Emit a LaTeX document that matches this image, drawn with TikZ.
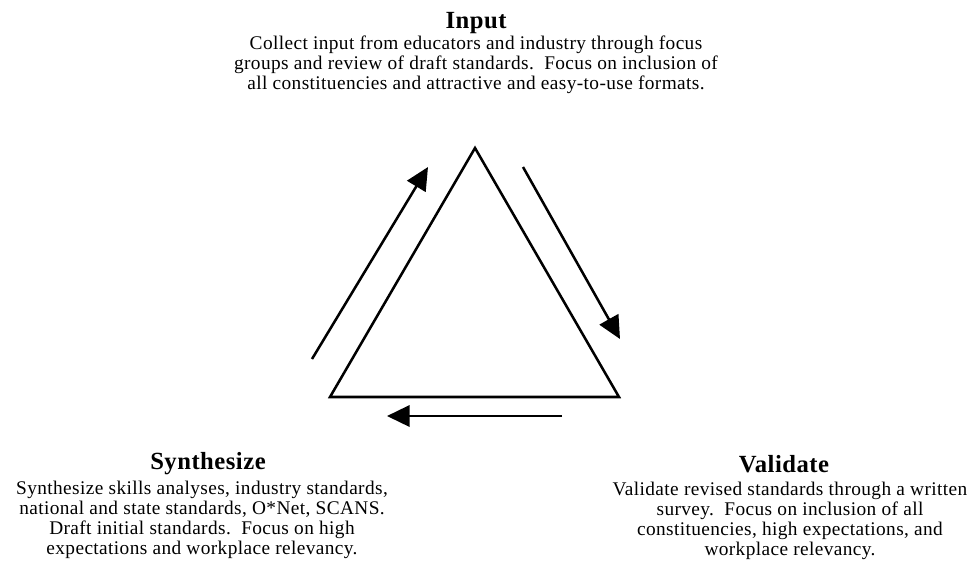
\documentclass[tikz,border=0pt]{standalone}
\usepackage{fontspec}
\setmainfont{Liberation Serif}[LetterSpace=2]
\usetikzlibrary{arrows.meta}

\begin{document}
\begin{tikzpicture}[x=0.75pt,y=-0.75pt,line width=1.9pt]
\tikzstyle{head}=[font=\fontsize{18.5}{20}\selectfont\bfseries,inner sep=0pt]
\tikzstyle{body}=[font=\fontsize{14.5}{15}\selectfont,align=center,inner sep=0pt]
\tikzstyle{cycle}=[-{Triangle[length=17pt,width=16pt]}]
\useasboundingbox (0,0) rectangle (973,572);

\node[head](inputh) at (476,23) {Input};
\node[body](inputb) at (476,65) {Collect input from educators and industry through focus\\
groups and review of draft standards.\ \ Focus on inclusion of\\
all constituencies and attractive and easy-to-use formats.};

\node[head](synth) at (208,464) {Synthesize};
\node[body](synthb) at (202,520) {Synthesize skills analyses, industry standards,\\
national and state standards, O*Net, SCANS.\\
Draft initial standards.\ \ Focus on high\\
expectations and workplace relevancy.};

\node[head](valid) at (784,464) {Validate};
\node[body](validb) at (790,521) {Validate revised standards through a written\\
survey.\ \ Focus on inclusion of all\\
constituencies, high expectations, and\\
workplace relevancy.};

% triangle
\coordinate (top) at (475,148);
\coordinate (bl) at (330,397);
\coordinate (br) at (619,397);
\draw[line join=miter] (top) -- (br) -- (bl) -- cycle;

% arrows round the triangle
\coordinate (a1) at (312,359);
\coordinate (a2) at (428,167);
\coordinate (b1) at (523,167);
\coordinate (b2) at (620,339);
\coordinate (c1) at (562,416);
\coordinate (c2) at (387,416);
\draw[cycle] (a1) -- (a2);
\draw[cycle] (b1) -- (b2);
\draw[cycle] (c1) -- (c2);
\end{tikzpicture}
\end{document}
